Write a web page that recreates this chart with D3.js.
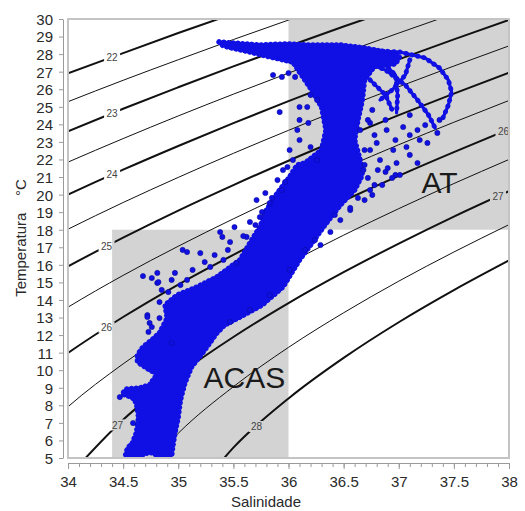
<!DOCTYPE html>
<html><head><meta charset="utf-8">
<script src="https://cdn.jsdelivr.net/npm/d3@7"></script>
<style>
html,body{margin:0;padding:0;background:#fff}
svg{display:block;font-family:"Liberation Sans",Arial,sans-serif}
</style></head>
<body><svg id="chart" width="525" height="511"></svg>
<script>
// ---- water mass boxes (salinity / temperature limits) ----
const massNames = ["ACAS", "AT"];
const massSal   = [[34.4, 36], [36, 38]];
const massTemp  = [[5, 18], [18, 30]];
const massLabelSal  = [35.6, 37.37];
const massLabelTemp = [9.0, 20.1];

// ---- sigma-t isopycnals: temperature at each salinity ----
const isoSal   = [33.5, 34.0, 34.5, 35.0, 35.5, 36.0, 36.5, 37.0, 37.5, 38.0];
const isoSigma = [22, 22.5, 23, 23.5, 24, 24.5, 25, 25.5, 26, 26.5, 27, 27.5, 28];
const isoTemp = [
  [25.69, 26.90, 28.06, 29.20, 30.30, 31.38, 32.43, 33.45, 34.46, 35.44],
  [24.03, 25.29, 26.51, 27.68, 28.83, 29.94, 31.02, 32.08, 33.11, 34.12],
  [22.29, 23.61, 24.89, 26.11, 27.30, 28.45, 29.57, 30.66, 31.73, 32.76],
  [20.45, 21.85, 23.19, 24.48, 25.72, 26.92, 28.08, 29.20, 30.30, 31.37],
  [18.51, 20.00, 21.42, 22.77, 24.07, 25.32, 26.53, 27.70, 28.84, 29.94],
  [16.42, 18.03, 19.55, 20.98, 22.35, 23.66, 24.93, 26.14, 27.32, 28.47],
  [14.14, 15.91, 17.55, 19.09, 20.54, 21.93, 23.25, 24.53, 25.75, 26.94],
  [11.60, 13.59, 15.40, 17.06, 18.62, 20.10, 21.50, 22.84, 24.12, 25.36],
  [ 8.64, 10.98, 13.03, 14.88, 16.57, 18.16, 19.65, 21.07, 22.42, 23.72],
  [ 4.88,  7.92, 10.36, 12.46, 14.35, 16.08, 17.69, 19.20, 20.63, 22.00],
  [ null,  3.91,  7.18,  9.72, 11.89, 13.82, 15.58, 17.21, 18.75, 20.20],
  [ null,  null,  2.85,  6.41,  9.06, 11.30, 13.27, 15.07, 16.73, 18.29],
  [ null,  null,  null,  1.64,  5.59,  8.39, 10.70, 12.73, 14.56, 16.25]
];
const isoLabelSigma = [22, 23, 24, 25, 26, 27, 28, 26, 27];
const isoLabelSal   = [34.40, 34.40, 34.40, 34.35, 34.35, 34.45, 35.71, 37.95, 37.90];

// ---- CTD observations ----
// densely sampled body of the T-S cloud (outline of the station data)
const coreSal = [35.37,35.51,35.74,35.97,36.20,36.47,36.69,36.88,37.01,36.97,36.78,36.69,36.67,36.63,36.60,36.65,36.67,36.60,36.47,36.33,36.20,36.10,35.95,35.76,35.56,35.42,35.35,35.24,35.12,35.06,35.02,35.00,34.97,34.95,34.94,34.83,34.74,34.65,34.52,34.54,34.58,34.62,34.64,34.62,34.58,34.49,34.53,34.65,34.74,34.81,34.74,34.63,34.63,34.68,34.76,34.83,34.90,34.88,34.99,35.15,35.35,35.56,35.65,35.74,35.80,35.90,36.01,36.08,36.15,36.30,36.34,36.30,36.21,36.10,36.04,35.83,35.65,35.41];
const coreTemp = [28.69,28.63,28.52,28.58,28.52,28.52,28.35,28.12,27.89,27.44,27.32,26.53,25.39,24.25,23.11,21.97,21.12,20.26,19.41,18.27,17.13,16.28,14.74,13.71,13.03,12.57,12.12,11.15,10.18,9.27,8.30,7.33,6.42,5.63,5.11,5.11,5.34,5.11,5.11,5.57,5.80,6.42,7.33,8.13,8.47,8.64,8.93,8.99,9.16,9.78,10.01,10.47,10.87,11.32,11.72,12.12,12.97,13.71,14.28,14.68,15.31,16.28,17.24,18.15,19.12,20.09,21.00,21.69,21.80,22.54,23.68,24.99,25.96,26.98,27.55,27.84,28.12,28.46];

// individual samples away from the dense body
const obsSal = [34.72,34.74,34.83,34.73,34.94,34.47,34.59,34.68,34.76,34.81,34.94,34.85,34.72,34.76,
  35.04,35.08,35.20,34.81,34.82,34.97,35.38,35.40,35.47,35.51,35.65,35.62,35.74,35.71,35.79,35.83,35.94,35.95,35.99,35.90,35.41,35.53,35.29,35.13,35.08,
  35.86,35.94,36.00,36.06,35.92,36.10,36.17,36.20,36.26,36.10,36.18,36.08,36.10,36.01,36.20,36.04,36.26,
  36.74,36.89,37.04,37.17,36.80,36.95,37.07,37.19,36.83,36.98,36.68,37.17,37.37,37.35,37.26,36.78,36.88,36.69,36.56,36.74,36.97,36.47,36.38,36.29,
  35.24,35.33,35.45,35.59,35.70,35.76,35.85,35.97,35.02,34.91,34.83,
  36.01,36.15,36.24,35.83,35.65,35.47,36.42,
  36.65,36.76,36.88,37.10,37.24,36.97,37.10,36.74,37.01,37.10,
  36.72,36.81,36.90,36.76,36.85,36.69,36.94,36.63,36.56,36.69,36.78,36.72];
const obsTemp = [13.14,12.69,12.97,12.18,11.55,8.47,6.99,15.36,15.25,14.97,15.14,14.57,13.03,12.46,
  16.85,16.73,16.67,15.54,15.02,15.54,17.87,17.59,17.30,18.15,18.44,17.59,18.72,19.69,20.09,19.52,20.26,21.40,21.57,20.83,16.28,16.10,15.88,15.71,15.14,
  26.81,26.70,26.92,26.70,24.70,24.99,24.99,25.67,25.39,24.25,24.08,23.68,23.11,22.54,22.71,21.97,21.97,
  24.08,23.68,23.85,23.68,22.94,22.54,22.71,23.11,21.97,21.80,21.40,21.80,24.25,23.51,22.94,20.55,21.29,19.69,19.12,20.26,21.12,18.55,17.87,17.13,
  16.16,16.56,16.85,17.64,18.27,19.01,19.81,20.72,14.85,14.45,13.88,
  15.71,16.85,17.41,14.28,13.43,12.74,18.84,
  23.68,24.82,24.25,24.53,23.96,23.11,23.39,22.54,21.12,22.26,
  20.95,21.40,21.51,19.98,20.55,21.69,20.95,19.81,19.24,22.54,23.39,24.25];

// surface casts in the warm, salty Tropical Water
const castSal = [
  [36.68, 37.01, 37.24, 37.37, 37.45, 37.48, 37.45, 37.40],
  [36.69, 36.88, 37.06, 37.17, 37.27, 37.33],
  [36.83, 36.97, 36.99, 36.98],
  [37.10, 37.06, 36.94, 36.83],
  [36.74, 36.88, 36.94]
];
const castTemp = [
  [28.23, 28.12, 27.78, 27.21, 26.53, 25.84, 25.10, 24.36],
  [27.55, 27.10, 26.24, 25.39, 24.53, 23.79],
  [27.67, 26.81, 25.67, 24.65],
  [27.67, 26.81, 25.96, 25.39],
  [26.53, 25.67, 24.82]
];

// ---- axes ----
const salTicks  = [34, 34.5, 35, 35.5, 36, 36.5, 37, 37.5, 38];
const tempTicks = d3.range(5, 31, 1);
const xTitle = "Salinidade";
const yTitle = "Temperatura    \u00B0C";

// ================= drawing =================
const svg = d3.select("#chart");
const pL = 68, pR = 509, pT = 19, pB = 458;
const x = d3.scaleLinear().domain([34, 38]).range([pL, pR]);
const y = d3.scaleLinear().domain([5, 30]).range([pB, pT]);
const dotBlue = "#1010e4";
const dotEdge = "#0a0a9a";

const defs = svg.append("defs");
defs.append("clipPath").attr("id", "plotClip")
  .append("rect").attr("x", pL).attr("y", pT).attr("width", pR - pL).attr("height", pB - pT);

// water mass boxes
svg.append("g").selectAll("rect").data(massNames).join("rect")
  .attr("x", (d, i) => x(massSal[i][0]))
  .attr("y", (d, i) => y(massTemp[i][1]))
  .attr("width", (d, i) => x(massSal[i][1]) - x(massSal[i][0]))
  .attr("height", (d, i) => y(massTemp[i][0]) - y(massTemp[i][1]))
  .attr("fill", "#d3d3d3");

svg.append("g").selectAll("text").data(massNames).join("text")
  .attr("x", (d, i) => x(massLabelSal[i]))
  .attr("y", (d, i) => y(massLabelTemp[i]))
  .attr("text-anchor", "middle")
  .attr("font-size", 30).attr("fill", "#1a1a1a")
  .text(d => d);

// position of a label on an isopycnal
function isoT(sig, s) {
  const row = isoTemp[isoSigma.indexOf(sig)];
  const j = Math.min(isoSal.length - 2, Math.floor((s - isoSal[0]) / 0.5));
  const f = (s - isoSal[j]) / (isoSal[j + 1] - isoSal[j]);
  return row[j] + f * (row[j + 1] - row[j]);
}
const labelPos = isoLabelSigma.map((sg, i) => [x(isoLabelSal[i]), y(isoT(sg, isoLabelSal[i]))]);

// isopycnals are broken where their labels sit
const mask = defs.append("mask").attr("id", "isoMask");
mask.append("rect").attr("x", 0).attr("y", 0).attr("width", 525).attr("height", 511).attr("fill", "#fff");
mask.selectAll("rect.gap").data(labelPos).join("rect").attr("class", "gap")
  .attr("x", d => d[0] - 8).attr("y", d => d[1] - 6).attr("width", 16).attr("height", 11).attr("fill", "#000");

const line = d3.line().defined(d => d[1] != null)
  .x(d => x(d[0])).y(d => y(d[1])).curve(d3.curveMonotoneX);

svg.append("g").attr("clip-path", "url(#plotClip)")
  .append("g").attr("mask", "url(#isoMask)")
  .selectAll("path").data(isoSigma).join("path")
  .attr("d", (sg, i) => line(isoSal.map((s, j) => [s, isoTemp[i][j]])))
  .attr("fill", "none").attr("stroke", "#111")
  .attr("stroke-width", sg => Number.isInteger(sg) ? 2 : 1);

svg.append("g").selectAll("text").data(isoLabelSigma).join("text")
  .attr("x", (d, i) => labelPos[i][0])
  .attr("y", (d, i) => labelPos[i][1] + 3.5)
  .attr("text-anchor", "middle").attr("font-size", 10).attr("fill", "#444")
  .text(d => d);

// observations
const obs = svg.append("g").attr("clip-path", "url(#plotClip)");
const corePath = d3.line().x(d => x(d[0])).y(d => y(d[1])).curve(d3.curveLinearClosed)(coreSal.map((s, i) => [s, coreTemp[i]]));
obs.append("path").attr("d", corePath)
  .attr("fill", dotBlue).attr("stroke", dotBlue).attr("stroke-width", 2).attr("stroke-linejoin", "round");
// ragged rim of overlapping sample markers
obs.append("path").attr("d", corePath)
  .attr("fill", "none").attr("stroke", dotBlue).attr("stroke-width", 5.5)
  .attr("stroke-linecap", "round").attr("stroke-dasharray", "0.1 4.6");

const castLine = d3.line().x(d => x(d[0])).y(d => y(d[1]));
obs.selectAll("path.cast").data(castSal).join("path").attr("class", "cast")
  .attr("d", (c, k) => castLine(c.map((s, j) => [s, castTemp[k][j]])))
  .attr("fill", "none").attr("stroke", dotBlue).attr("stroke-width", 3.2)
  .attr("stroke-linecap", "round").attr("stroke-linejoin", "round");
obs.selectAll("path.castDots").data(castSal).join("path").attr("class", "castDots")
  .attr("d", (c, k) => castLine(c.map((s, j) => [s, castTemp[k][j]])))
  .attr("fill", "none").attr("stroke", dotBlue).attr("stroke-width", 5)
  .attr("stroke-linecap", "round").attr("stroke-dasharray", "0.1 6");

obs.selectAll("circle").data(obsSal).join("circle")
  .attr("cx", d => x(d)).attr("cy", (d, i) => y(obsTemp[i])).attr("r", 2.6)
  .attr("fill", dotBlue).attr("stroke", dotEdge).attr("stroke-width", 0.6);

// plot frame
svg.append("rect").attr("x", pL).attr("y", pT).attr("width", pR - pL).attr("height", pB - pT)
  .attr("fill", "none").attr("stroke", "#c4c4c4").attr("stroke-width", 2);

// axes
const axisColor = "#9a9a9a";
const xAxis = svg.append("g").attr("transform", `translate(0,${pB + 5})`)
  .call(d3.axisBottom(x).tickValues(salTicks).tickFormat(d3.format("")).tickSize(6).tickSizeOuter(0));
const xMinor = svg.append("g").attr("transform", `translate(0,${pB + 5})`)
  .call(d3.axisBottom(x).tickValues(d3.range(34, 38.001, 0.1)).tickFormat("").tickSize(4).tickSizeOuter(0));
xMinor.select(".domain").remove();
const yAxis = svg.append("g").attr("transform", `translate(${pL - 5},0)`)
  .call(d3.axisLeft(y).tickValues(tempTicks).tickFormat(d3.format("d")).tickSize(4).tickSizeOuter(0));
[xAxis, xMinor, yAxis].forEach(g => {
  g.selectAll("path,line").attr("stroke", axisColor);
  g.selectAll("text").attr("fill", "#2a2a2a").attr("font-size", 15)
    .attr("font-family", "'Liberation Sans',Arial,sans-serif");
});
xAxis.selectAll("text").attr("dy", "1.0em");
yAxis.selectAll("text").attr("x", -10).attr("dy", "0.36em");

svg.append("text").attr("x", 266).attr("y", 507).attr("text-anchor", "middle")
  .attr("font-size", 15).attr("fill", "#2a2a2a").text(xTitle);
svg.append("text").attr("transform", "translate(26,238) rotate(-90)").attr("text-anchor", "middle")
  .attr("font-size", 15).attr("fill", "#2a2a2a").style("white-space", "pre").text(yTitle);
</script></body></html>
